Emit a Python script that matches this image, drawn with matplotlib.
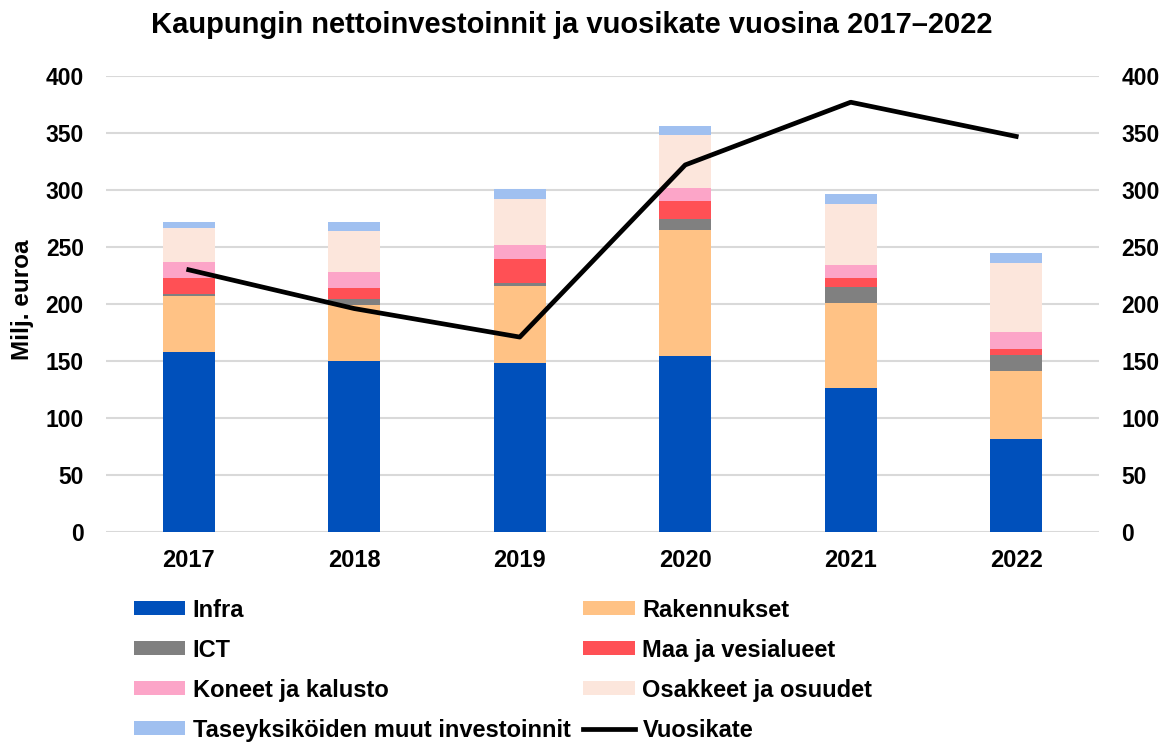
import matplotlib
matplotlib.use("Agg")
import matplotlib.pyplot as plt
from matplotlib.patches import Patch
from matplotlib.lines import Line2D
import numpy as np

plt.rcParams['font.family'] = ['Liberation Sans', 'DejaVu Sans']
plt.rcParams['font.weight'] = 'bold'

years = ["2017", "2018", "2019", "2020", "2021", "2022"]
infra = [158, 150, 148.5, 154.5, 126.5, 82]
rakennukset = [49, 49.5, 67.5, 110.5, 74, 59]
ict = [1.5, 5, 2, 9.5, 14.5, 14]
maa = [14, 9.5, 21.5, 16, 7.5, 5.5]
koneet = [14, 14, 12, 11.5, 11.5, 15]
osakkeet = [30.5, 36, 41, 46, 54, 60.5]
taseyks = [5, 7.5, 8, 8, 8.5, 8.5]
vuosikate = [230, 196, 171, 322, 377, 347]

series = [
    ("Infra", infra, "#0050BB"),
    ("Rakennukset", rakennukset, "#FFC285"),
    ("ICT", ict, "#808080"),
    ("Maa ja vesialueet", maa, "#FF5055"),
    ("Koneet ja kalusto", koneet, "#FCA5C8"),
    ("Osakkeet ja osuudet", osakkeet, "#FCE6DC"),
    ("Taseyksiköiden muut investoinnit", taseyks, "#A0C0F0"),
]

fig = plt.figure(figsize=(11.66, 7.51), dpi=100)
ax = fig.add_axes([0.0909, 0.2916, 0.8516, 0.6072])
x = np.arange(len(years))
bottom = np.zeros(len(years))
handles = {}
for name, vals, col in series:
    ax.bar(x, vals, 0.315, bottom=bottom, color=col, zorder=2)
    bottom += np.array(vals)
    handles[name] = Patch(facecolor=col)

ax.set_xlim(-0.5, len(years) - 0.5)
ax.set_ylim(0, 400)
ax.set_yticks(range(0, 401, 50))
ax.set_xticks(x)
ax.set_xticklabels(years, fontsize=17, fontweight='bold')
ax.tick_params(axis='y', labelsize=16.5, length=0, pad=16)
ax.tick_params(axis='x', length=0, pad=12)
ax.grid(axis='y', color='#D9D9D9', linewidth=1.5, zorder=0)
for s in ax.spines.values():
    s.set_visible(False)
ax.set_ylabel("Milj. euroa", fontsize=17.5, fontweight='bold')
ax.yaxis.set_label_coords(-0.072, 0.51)

ax2 = ax.twinx()
ax2.set_ylim(0, 400)
ax2.set_yticks(range(0, 401, 50))
ax2.tick_params(axis='y', labelsize=16.5, length=0, pad=16)
for s in ax2.spines.values():
    s.set_visible(False)
ax2.plot(x, vuosikate, color='black', linewidth=3.4, zorder=5)
handles["Vuosikate"] = Line2D([0], [0], color='black', linewidth=3.4)

for lab in ax.get_yticklabels() + ax2.get_yticklabels():
    lab.set_fontweight('bold')

fig.text(0.49, 0.967, "Kaupungin nettoinvestoinnit ja vuosikate vuosina 2017–2022",
         fontsize=21, fontweight='bold', ha='center', va='center')

order = ["Infra", "ICT", "Koneet ja kalusto", "Taseyksiköiden muut investoinnit",
         "Rakennukset", "Maa ja vesialueet", "Osakkeet ja osuudet", "Vuosikate"]
leg = fig.legend([handles[n] for n in order], order, ncol=2,
                 loc='upper left', bbox_to_anchor=(0.1145, 0.203),
                 frameon=False, prop={'size': 17, 'weight': 'bold'},
                 handlelength=2.2, handleheight=0.55, handletextpad=0.3,
                 columnspacing=0.55, labelspacing=0.72, borderpad=0, borderaxespad=0)

fig.savefig("out.png", dpi=100)
